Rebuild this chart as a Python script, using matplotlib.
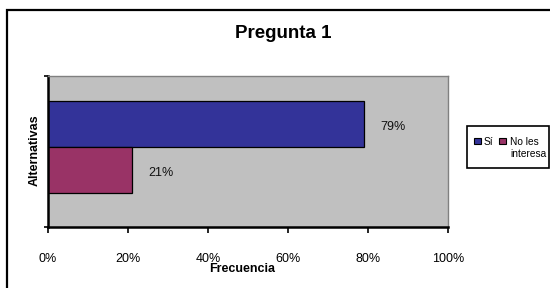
import matplotlib
matplotlib.use("Agg")
import matplotlib.pyplot as plt
from matplotlib.patches import Rectangle

plt.rcParams['font.family'] = ['Liberation Sans', 'DejaVu Sans']

series = ["Sí", "No les\ninteresa"]
values = [0.79, 0.21]
value_labels = ["79%", "21%"]
xticks = [0, 0.2, 0.4, 0.6, 0.8, 1.0]
xtick_labels = ["0%", "20%", "40%", "60%", "80%", "100%"]
colors = ["#333399", "#993366"]

W, H = 550, 288
fig = plt.figure(figsize=(W / 100, H / 100), dpi=100)
fig.patch.set_facecolor("white")

def px(x, y):
    return (x / W, 1 - y / H)

# outer chart frame (right/bottom edges clipped off-image)
fig.patches.append(Rectangle((7 / W, -0.05), 1.2, 1 - 10 / H + 0.05,
                             transform=fig.transFigure, fill=False,
                             edgecolor="black", linewidth=1.6, zorder=0))

ax = fig.add_axes([48 / W, 1 - 227 / H, 400 / W, 151 / H])
ax.set_facecolor("#C0C0C0")

bar_h = 0.305
offsets = [0.030 + bar_h / 2, 0.030 - bar_h / 2]
for v, off, c, lab, name in zip(values, offsets, colors, value_labels, series):
    ax.barh(off, v, height=bar_h, color=c, edgecolor="black", linewidth=0.9, label=name)
    ax.annotate(lab, xy=(v, off), xytext=(11.5, -2.2), textcoords="offset points",
                ha="left", va="center", fontsize=9, color="#111111")

ax.set_xlim(0, 1)
ax.set_ylim(-0.5, 0.5)
ax.set_xticks(xticks)
ax.set_xticklabels(xtick_labels, fontsize=9)
ax.set_yticks([-0.5, 0.5])
ax.set_yticklabels([])
ax.tick_params(axis="x", direction="out", length=4, width=1.2, pad=15, color="black")
ax.tick_params(axis="y", direction="out", length=3, width=1.2, color="black")

for s in ["top", "right"]:
    ax.spines[s].set_color("#808080")
    ax.spines[s].set_linewidth(1.0)
for s in ["bottom", "left"]:
    ax.spines[s].set_color("black")
    ax.spines[s].set_linewidth(1.8)

ax.set_xlabel("Frecuencia", fontsize=9, fontweight="bold")
ax.xaxis.set_label_coords(0.485, -0.278)
ax.xaxis.label.set_va("center")
ax.set_ylabel("Alternativas", fontsize=9, fontweight="bold")
ax.yaxis.set_label_coords(-0.0325, 0.51)
ax.yaxis.label.set_va("center")

fig.text(*px(283, 33), "Pregunta 1", ha="center", va="center",
         fontsize=13.5, fontweight="bold")

# legend box drawn as in the reference (marker aligned to first text line)
x0, y0 = px(467, 168)
x1, y1 = px(549, 126)
fig.patches.append(Rectangle((x0, y0), x1 - x0, y1 - y0, transform=fig.transFigure,
                             facecolor="white", edgecolor="black", linewidth=1.2, zorder=5))
marker_x = [474, 499]
text_x = [484, 510]
for mx, tx, c, name in zip(marker_x, text_x, colors, series):
    rx, ry = px(mx, 144)
    fig.patches.append(Rectangle((rx, ry), 6.5 / W, 6.5 / H, transform=fig.transFigure,
                                 facecolor=c, edgecolor="black", linewidth=0.8, zorder=6))
    tx_, ty_ = px(tx, 137)
    fig.text(tx_, ty_, name, ha="left", va="top", fontsize=7.3,
             linespacing=1.3, zorder=7)

fig.savefig("out.png", dpi=100)
